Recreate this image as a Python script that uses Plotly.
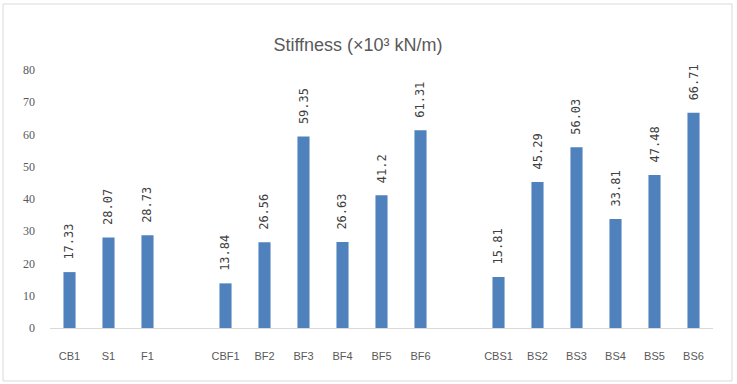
import plotly.graph_objects as go

categories = ["CB1", "S1", "F1", " ", "CBF1", "BF2", "BF3", "BF4", "BF5", "BF6", "  ",
              "CBS1", "BS2", "BS3", "BS4", "BS5", "BS6"]
stiffness = [17.33, 28.07, 28.73, None, 13.84, 26.56, 59.35, 26.63, 41.2, 61.31, None,
             15.81, 45.29, 56.03, 33.81, 47.48, 66.71]
y_ticks = [0, 10, 20, 30, 40, 50, 60, 70, 80]

fig = go.Figure(go.Bar(
    x=categories, y=stiffness,
    marker=dict(color="#4F81BD", line=dict(width=0)),
    width=0.31, cliponaxis=False, hoverinfo="x+y",
))

# data labels built from the data arrays
for c, v in zip(categories, stiffness):
    if v is None:
        continue
    fig.add_annotation(x=c, y=v, xref="x", yref="y", text=f"{v:g}", textangle=-90,
                       showarrow=False, yanchor="bottom", xanchor="center", yshift=10,
                       font=dict(family="DejaVu Sans Mono", size=12, color="#404040"))

W, H = 737, 384
l, r, t, b = 50, 24, 70, 56
pw, ph = W - l - r, H - t - b

def px(x):
    return (x - l) / pw

def py(y):
    return (H - b - y) / ph

fig.update_layout(
    width=W, height=H,
    margin=dict(l=l, r=r, t=t, b=b),
    paper_bgcolor="white", plot_bgcolor="white",
    showlegend=False,
    title=dict(text="Stiffness (×10³ kN/m)", x=(358 - l) / pw, xref="paper",
               xanchor="center", y=1 - 45 / H, yanchor="middle",
               font=dict(family="Liberation Sans", size=18, color="#595959")),
    xaxis=dict(type="category", showgrid=False, showline=True, linecolor="#D9D9D9", linewidth=1,
               ticks="", ticklabelstandoff=18,
               tickfont=dict(family="Liberation Sans", size=11, color="#595959")),
    yaxis=dict(range=[0, 80], tickvals=y_ticks, showgrid=False, zeroline=False, showline=False,
               ticks="", ticklabelstandoff=14,
               tickfont=dict(family="Liberation Serif", size=12, color="#595959")),
    shapes=[dict(type="rect", xref="paper", yref="paper",
                 x0=px(3), x1=px(732), y0=py(4), y1=py(381),
                 line=dict(color="#D9D9D9", width=1), fillcolor="rgba(0,0,0,0)", layer="below")],
    bargap=0.69,
)

fig.write_html("out.html")
